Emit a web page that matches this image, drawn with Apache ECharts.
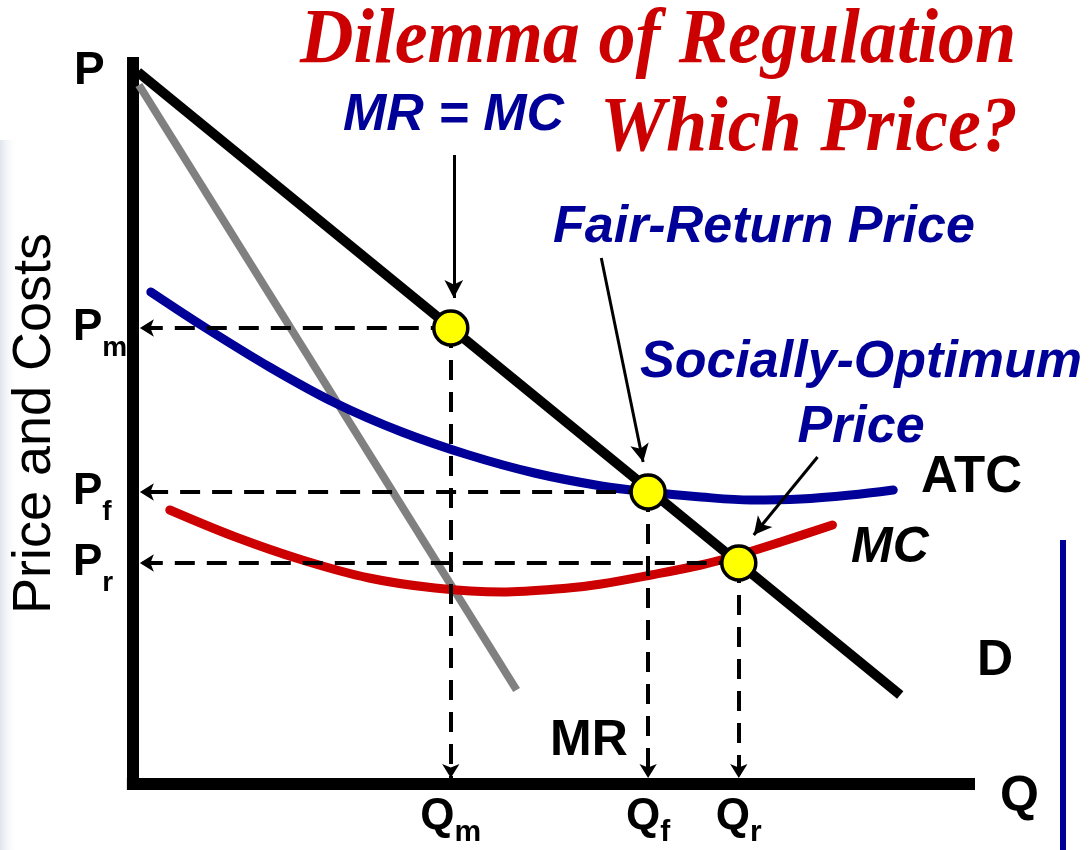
<!DOCTYPE html>
<html>
<head>
<meta charset="utf-8">
<script src="https://cdn.jsdelivr.net/npm/echarts@6/dist/echarts.min.js"></script>
<style>
html,body{margin:0;padding:0;background:#fff;}
#chart{width:1091px;height:850px;}
</style>
</head>
<body>
<div id="chart"></div>
<script>
// ---- Data (quantity units on x, price units on y) ----
const qTicks = [31.9, 51.7, 60.8];          // Qm, Qf, Qr
const qSubs = ['m', 'f', 'r'];
const pTicks = [45.6, 29.2, 22.1];          // Pm, Pf, Pr
const pSubs = ['m', 'f', 'r'];

const demand = [[0.5, 71.2], [77.0, 8.9]];
const marginalRevenue = [[0.6, 69.9], [38.5, 9.4]];
const atc = [[1.8, 49.2], [7.0, 45.8], [13.7, 41.7], [20.3, 38.1], [27.0, 35.2], [33.7, 32.9],
             [40.3, 31.1], [47.0, 29.8], [51.7, 29.2], [57.0, 28.7], [62.0, 28.4], [67.0, 28.5],
             [72.0, 28.9], [76.3, 29.4]];
const mc = [[3.7, 27.4], [10.3, 24.7], [17.0, 22.4], [23.7, 20.6], [30.3, 19.6], [37.0, 19.2],
            [43.7, 19.6], [47.0, 20.0], [52.0, 20.9], [57.0, 21.9], [60.8, 22.9], [65.0, 24.2],
            [70.2, 25.9]];
const equilibria = [[qTicks[0], pTicks[0]], [qTicks[1], pTicks[1]], [qTicks[2], pTicks[2]]];
// annotation arrows: [from, to]
const pointerArrows = [
  [[32.2, 62.9], [32.2, 48.6]],
  [[47.0, 52.6], [51.2, 32.2]],
  [[68.7, 32.7], [62.3, 24.9]]
];

const FONT = '"Liberation Sans", Arial, sans-serif';
const SERIF = '"Liberation Serif", "Times New Roman", serif';
const BLUE = '#000099';
const RED = '#cc0000';

// guide lines from each equilibrium to both axes
const guideLines = [];
equilibria.forEach(function (pt) {
  guideLines.push([{ coord: [pt[0], pt[1]] }, { coord: [0.7, pt[1]] }]);
  guideLines.push([{ coord: [pt[0], pt[1]] }, { coord: [pt[0], 0.6] }]);
});
const arrowLines = pointerArrows.map(function (a) {
  return [{ coord: a[0] }, { coord: a[1] }];
});

function findIdx(arr, v) {
  let best = 0;
  for (let i = 1; i < arr.length; i++) if (Math.abs(arr[i] - v) < Math.abs(arr[best] - v)) best = i;
  return best;
}

const chart = echarts.init(document.getElementById('chart'), null, { renderer: 'canvas' });

function txt(text, x, y, size, opts) {
  opts = opts || {};
  return {
    type: 'text', x: x, y: y, z: 100,
    scaleX: opts.scaleX || 1,
    style: {
      text: text, x: 0, y: 0,
      fontSize: size,
      fontFamily: opts.family || FONT,
      fontWeight: opts.weight || 'bold',
      fontStyle: opts.italic ? 'italic' : 'normal',
      fill: opts.color || '#000',
      textAlign: opts.align || 'left',
      textVerticalAlign: 'middle'
    }
  };
}

const option = {
  animation: false,
  backgroundColor: '#ffffff',
  grid: { left: 130, right: 122, top: 63, bottom: 66, containLabel: false },
  xAxis: {
    type: 'value', min: 0, max: 83.9,
    splitLine: { show: false },
    axisTick: { show: false },
    axisLine: { show: true, onZero: false, lineStyle: { color: '#000', width: 12, cap: 'square' } },
    axisLabel: {
      customValues: qTicks,
      margin: 33,
      verticalAlign: 'middle',
      formatter: function (v) { return '{b|Q}{s|' + qSubs[findIdx(qTicks, v)] + '}'; },
      rich: {
        b: { fontSize: 44, fontWeight: 'bold', fontFamily: FONT, color: '#000', lineHeight: 44 },
        s: { fontSize: 30, fontWeight: 'bold', fontFamily: FONT, color: '#000', lineHeight: 30, padding: [32, 0, 0, 0] }
      }
    }
  },
  yAxis: {
    type: 'value', min: 0, max: 72.1,
    splitLine: { show: false },
    axisTick: { show: false },
    axisLine: { show: true, onZero: false, lineStyle: { color: '#000', width: 12, cap: 'square' } },
    name: 'Price and Costs',
    nameLocation: 'middle',
    nameGap: 62,
    nameRotate: 90,
    nameTextStyle: { fontSize: 54, fontFamily: FONT, color: '#000', fontWeight: 'normal' },
    axisLabel: {
      customValues: pTicks,
      margin: 60,
      align: 'left',
      formatter: function (v) { return '{b|P}{s|' + pSubs[findIdx(pTicks, v)] + '}'; },
      rich: {
        b: { fontSize: 44, fontWeight: 'bold', fontFamily: FONT, color: '#000', lineHeight: 44 },
        s: { fontSize: 28, fontWeight: 'bold', fontFamily: FONT, color: '#000', lineHeight: 28, padding: [40, 0, 0, 0] }
      }
    }
  },
  series: [
    {
      name: 'MR', type: 'line', data: marginalRevenue, symbol: 'none', z: 1,
      lineStyle: { color: '#808080', width: 8 }, silent: true
    },
    {
      name: 'guides', type: 'line', data: [], z: 2, silent: true,
      markLine: {
        silent: true, animation: false,
        symbol: ['none', 'arrow'], symbolSize: [13, 14],
        label: { show: false },
        lineStyle: { color: '#000', width: 4, type: [20, 12] },
        emphasis: { disabled: true },
        data: guideLines
      }
    },
    {
      name: 'ATC', type: 'line', data: atc, symbol: 'none', smooth: 0.35, z: 3,
      lineStyle: { color: BLUE, width: 9, cap: 'round' }, silent: true
    },
    {
      name: 'MC', type: 'line', data: mc, symbol: 'none', smooth: 0.35, z: 3,
      lineStyle: { color: RED, width: 9, cap: 'round' }, silent: true
    },
    {
      name: 'D', type: 'line', data: demand, symbol: 'none', z: 4,
      lineStyle: { color: '#000', width: 10 }, silent: true
    },
    {
      name: 'pointers', type: 'line', data: [], z: 5, silent: true,
      markLine: {
        silent: true, animation: false,
        symbol: ['none', 'arrow'], symbolSize: [14, 18],
        label: { show: false },
        lineStyle: { color: '#000', width: 3, type: 'solid' },
        emphasis: { disabled: true },
        data: arrowLines
      }
    },
    {
      name: 'equilibria', type: 'scatter', data: equilibria, z: 10,
      symbol: 'circle', symbolSize: 34,
      itemStyle: { color: '#ffff00', borderColor: '#000', borderWidth: 3.5, opacity: 1 },
      silent: true
    }
  ],
  graphic: [
    {
      type: 'rect', z: -1, shape: { x: 0, y: 140, width: 18, height: 710 },
      style: { fill: new echarts.graphic.LinearGradient(0, 0, 1, 0, [
        { offset: 0, color: '#dfe4ec' }, { offset: 1, color: 'rgba(255,255,255,0)' }]) }
    },
    {
      type: 'line', z: 1, shape: { x1: 1063, y1: 540, x2: 1063, y2: 850 },
      style: { stroke: BLUE, lineWidth: 6 }
    },
    txt('Dilemma of Regulation', 300, 42, 78, { family: SERIF, italic: true, color: RED, scaleX: 0.95 }),
    txt('Which Price?', 600, 130, 78, { family: SERIF, italic: true, color: RED, scaleX: 0.95 }),
    txt('MR = MC', 343, 116, 52, { italic: true, color: BLUE }),
    txt('Fair-Return Price', 553, 228, 52, { italic: true, color: BLUE }),
    txt('Socially-Optimum', 640, 363, 52, { italic: true, color: BLUE }),
    txt('Price', 861, 428, 52, { italic: true, color: BLUE, align: 'center' }),
    txt('P', 74, 71, 46),
    txt('Q', 1000, 797, 50),
    txt('D', 977, 661, 50),
    txt('ATC', 921, 478, 51),
    txt('MC', 851, 548, 50, { italic: true }),
    txt('MR', 550, 741, 50)
  ]
};

chart.setOption(option);
</script>
</body>
</html>
